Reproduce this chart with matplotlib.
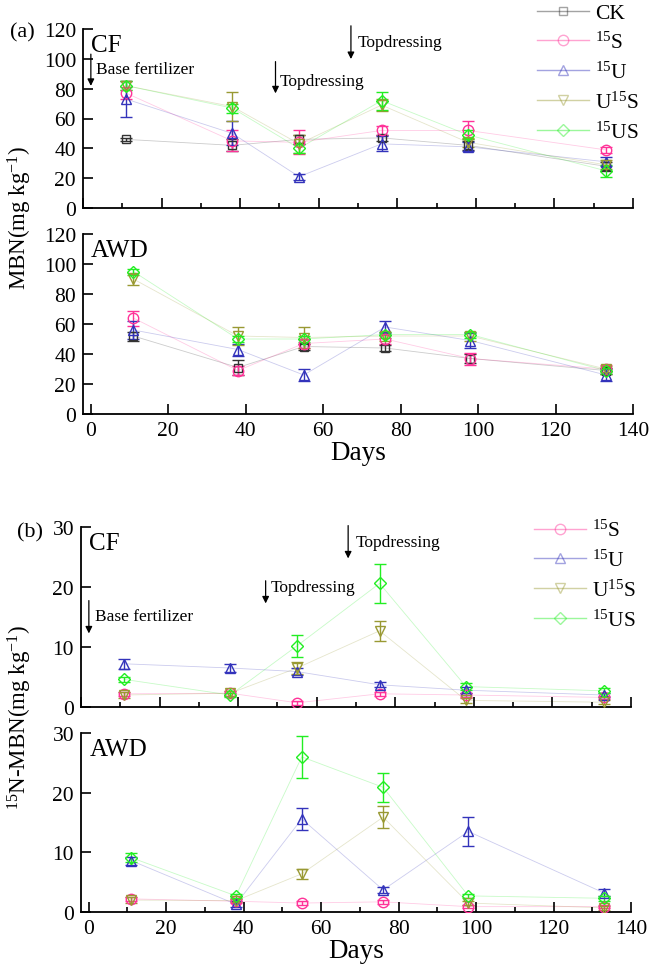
import matplotlib
matplotlib.use('Agg')
import matplotlib.pyplot as plt
from matplotlib.ticker import MultipleLocator

plt.rcParams.update({
    'font.family': 'serif',
    'font.serif': ['Liberation Serif', 'DejaVu Serif'],
    'mathtext.default': 'regular',
    'font.size': 15.5,
    'axes.linewidth': 1.3,
})

days = [11, 38, 55, 76, 98, 133]
labels = ['CK', '$^{15}$S', '$^{15}$U', 'U$^{15}$S', '$^{15}$US']
colors = ['#333333', '#ff3399', '#3333bb', '#999933', '#22ee22']
markers = ['s', 'o', '^', 'v', 'D']

# (a) MBN, mg/kg
mbn_cf = [
    [46, 42, 46, 47, 42, 28],
    [77, 45, 44, 52, 52, 39],
    [73, 50, 21, 43, 41, 31],
    [82, 68, 43, 69, 44, 29],
    [82, 67, 40, 72, 49, 25],
]
mbn_cf_err = [
    [1, 4, 3, 2, 3, 3],
    [4, 7, 8, 3, 6, 2],
    [12, 8, 2, 5, 3, 3],
    [3, 10, 6, 4, 3, 3],
    [3, 3, 3, 6, 3, 4],
]
mbn_awd = [
    [52, 31, 45, 44, 37, 29],
    [64, 29, 47, 50, 37, 30],
    [56, 43, 26, 58, 49, 26],
    [90, 52, 51, 52, 52, 30],
    [95, 50, 50, 53, 53, 29],
]
mbn_awd_err = [
    [3, 5, 2, 2, 3, 2],
    [5, 3, 3, 3, 4, 3],
    [6, 4, 4, 4, 5, 4],
    [4, 6, 7, 3, 3, 2],
    [2, 2, 2, 2, 2, 2],
]

# (b) 15N-MBN, mg/kg (no CK)
n15_cf = [
    [2.2, 2.3, 0.7, 2.2, 2.0, 1.6],
    [7.2, 6.5, 5.9, 3.7, 2.8, 2.0],
    [2.0, 2.3, 6.5, 12.7, 1.1, 0.8],
    [4.6, 2.0, 10.2, 20.6, 3.4, 2.7],
]
n15_cf_err = [
    [0.3, 0.4, 0.3, 0.3, 0.3, 0.3],
    [0.8, 0.6, 0.6, 0.4, 0.5, 0.4],
    [0.5, 0.4, 1.0, 1.7, 0.4, 0.3],
    [0.4, 0.4, 1.8, 3.3, 0.6, 0.4],
]
n15_awd = [
    [2.2, 1.8, 1.5, 1.7, 0.9, 0.9],
    [8.6, 1.3, 15.6, 3.7, 13.5, 3.2],
    [2.0, 1.9, 6.4, 15.9, 1.5, 0.7],
    [9.1, 2.7, 26.0, 20.9, 2.7, 2.3],
]
n15_awd_err = [
    [0.3, 0.3, 0.3, 0.3, 0.3, 0.3],
    [0.7, 0.5, 1.8, 0.5, 2.4, 0.6],
    [0.5, 0.3, 0.8, 1.8, 0.4, 0.3],
    [0.8, 0.4, 3.5, 2.4, 0.4, 0.4],
]

fig = plt.figure(figsize=(6.52, 9.70), dpi=100)
ax_a1 = fig.add_axes([83/652, 1-209/970, 550/652, 179/970])
ax_a2 = fig.add_axes([83/652, 1-415/970, 550/652, 180/970])
ax_b1 = fig.add_axes([81/652, 1-708/970, 550/652, 180/970])
ax_b2 = fig.add_axes([81/652, 1-913/970, 550/652, 179/970])


def msize(m):
    return 5.5 if m == 's' else (6.3 if m == 'D' else 7.5)


def draw(ax, vals, errs, idx):
    for k, i in enumerate(idx):
        c = colors[i]
        ax.plot(days, vals[k], color=c, lw=0.6, alpha=0.25, zorder=1)
        ax.errorbar(days, vals[k], yerr=errs[k], fmt='none', ecolor=c,
                    elinewidth=1.0, capsize=4, capthick=1.0, zorder=2)
        ax.plot(days, vals[k], ls='none', marker=markers[i], ms=msize(markers[i]),
                mfc='none', mec=c, mew=1.0, zorder=3)


def style(ax, ylim, ystep, xlim, minor, labels_on):
    ax.set_xlim(*xlim)
    ax.set_ylim(*ylim)
    ax.yaxis.set_major_locator(MultipleLocator(ystep))
    ax.xaxis.set_major_locator(MultipleLocator(20))
    if minor:
        ax.xaxis.set_minor_locator(MultipleLocator(10))
    ax.spines[['top', 'right']].set_visible(False)
    ax.tick_params(which='major', direction='in', length=7, width=1.2,
                   labelsize=15.5, pad=5)
    ax.tick_params(which='minor', direction='in', length=3.5, width=1.2)
    if not labels_on:
        ax.tick_params(axis='x', labelbottom=False)


draw(ax_a1, mbn_cf, mbn_cf_err, range(5))
draw(ax_a2, mbn_awd, mbn_awd_err, range(5))
draw(ax_b1, n15_cf, n15_cf_err, range(1, 5))
draw(ax_b2, n15_awd, n15_awd_err, range(1, 5))

style(ax_a1, (0, 120), 20, (0, 140), True, False)
style(ax_a2, (0, 120), 20, (-2, 140), False, True)
style(ax_b1, (0, 30), 10, (0, 140), True, False)
style(ax_b2, (0, 30), 10, (-2, 140), True, True)

ax_a2.set_xlabel('Days', fontsize=19.5, labelpad=0)
ax_b2.set_xlabel('Days', fontsize=19.5, labelpad=0)

for ax, t in [(ax_a1, 'CF'), (ax_a2, 'AWD'), (ax_b1, 'CF'), (ax_b2, 'AWD')]:
    ax.text(0.015, 0.97, t, transform=ax.transAxes, fontsize=18, va='top', ha='left')

fig.text(10/652, 1-33/970, '(a)', fontsize=16, va='center', ha='left')
fig.text(17/652, 1-533/970, '(b)', fontsize=16, va='center', ha='left')
fig.text(20/652, 1-218/970, 'MBN(mg kg$^{-1}$)', rotation=90, fontsize=16.5,
         va='center', ha='center')
fig.text(20/652, 1-718/970, '$^{15}$N-MBN(mg kg$^{-1}$)', rotation=90, fontsize=16.5,
         va='center', ha='center')

arr = dict(arrowstyle='-|>', color='black', lw=0.9, mutation_scale=10)
ann = dict(fontsize=12.5, va='center', ha='left')

# (a) CF events
ax_a1.annotate('', xy=(2, 80), xytext=(2, 105), arrowprops=arr, annotation_clip=False)
ax_a1.text(3.2, 93, 'Base fertilizer', **ann)
ax_a1.annotate('', xy=(49, 75), xytext=(49, 100), arrowprops=arr, annotation_clip=False)
ax_a1.text(50, 85, 'Topdressing', **ann)
ax_a1.annotate('', xy=(68.2, 98), xytext=(68.2, 124), arrowprops=arr, annotation_clip=False)
ax_a1.text(70, 111, 'Topdressing', clip_on=False, **ann)

# (b) CF events
ax_b1.annotate('', xy=(2, 11.8), xytext=(2, 18.2), arrowprops=arr, annotation_clip=False)
ax_b1.text(3.5, 15.2, 'Base fertilizer', **ann)
ax_b1.annotate('', xy=(47, 16.8), xytext=(47, 21.5), arrowprops=arr, annotation_clip=False)
ax_b1.text(48.2, 20.0, 'Topdressing', **ann)
ax_b1.annotate('', xy=(68, 24.3), xytext=(68, 30.7), arrowprops=arr, annotation_clip=False)
ax_b1.text(70, 27.5, 'Topdressing', clip_on=False, **ann)


def legend(ax, idx, x0, y0):
    handles = []
    for i in idx:
        c = colors[i]
        h, = ax.plot([], [], color=c, lw=1.0, alpha=0.45, marker=markers[i],
                     ms=msize(markers[i]), mfc='none', mec=c, mew=1.0)
        handles.append(h)
    ax.legend(handles, [labels[i] for i in idx], loc='upper left',
              bbox_to_anchor=(x0, y0), bbox_transform=fig.transFigure,
              frameon=False, fontsize=15.5, handlelength=2.4, handletextpad=0.3,
              labelspacing=0.4, borderpad=0, borderaxespad=0)


legend(ax_a1, range(5), 537/652, 1-4/970)
legend(ax_b1, range(1, 5), 534/652, 1-521/970)

fig.savefig('out.png', dpi=100)
